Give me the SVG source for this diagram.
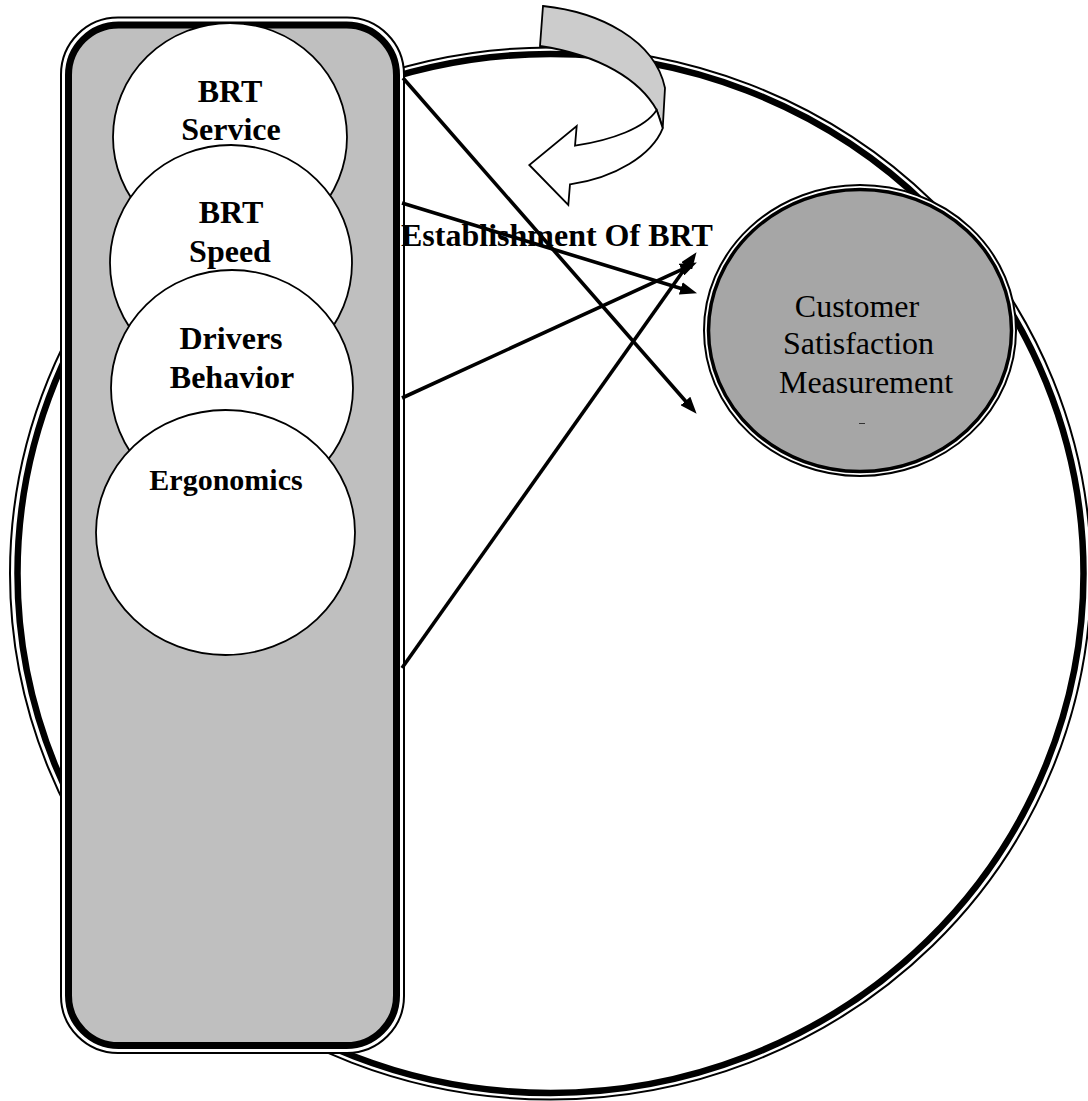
<svg xmlns="http://www.w3.org/2000/svg" width="1088" height="1101" viewBox="0 0 1088 1101">
  <style>
    .lbl { font-family: "Liberation Serif", "Times New Roman", serif; font-weight: bold; font-size: 32px; fill: #000; text-anchor: middle; }
    .cs { font-family: "Liberation Serif", "Times New Roman", serif; font-size: 32px; fill: #000; text-anchor: middle; }
    .small { fill: #fff; stroke: #000; stroke-width: 1.8; }
    .conn { stroke: #000; stroke-width: 3.6; fill: none; marker-end: url(#ah); }
  </style>
  <defs>
    <marker id="ah" markerUnits="userSpaceOnUse" markerWidth="17" markerHeight="13" refX="8" refY="6.5" orient="auto">
      <path d="M0,0 L17,6.5 L0,13 Z" fill="#000"/>
    </marker>
  </defs>
  <rect width="1088" height="1101" fill="#fff"/>

  <g id="outer-circle">
    <ellipse cx="550.5" cy="573.5" rx="540.5" ry="526" fill="none" stroke="#000" stroke-width="2"/>
    <ellipse cx="550.5" cy="573.5" rx="533" ry="519.5" fill="none" stroke="#000" stroke-width="6.5"/>
  </g>

  <g id="factors-panel">
    <rect x="61" y="17.5" width="343" height="1035.5" rx="57" ry="57" fill="#fff" stroke="#000" stroke-width="2"/>
    <rect x="68.5" y="25" width="328" height="1020.5" rx="50" ry="50" fill="#bfbfbf" stroke="#000" stroke-width="7"/>
  </g>

  <g id="brt-service">
    <ellipse class="small" cx="230" cy="137" rx="117" ry="114"/>
    <text class="lbl" x="230" y="102">BRT</text>
    <text class="lbl" x="231" y="140">Service</text>
  </g>
  <g id="brt-speed">
    <ellipse class="small" cx="231" cy="263" rx="121" ry="118"/>
    <text class="lbl" x="231" y="223">BRT</text>
    <text class="lbl" x="230" y="262">Speed</text>
  </g>
  <g id="drivers-behavior">
    <ellipse class="small" cx="232" cy="388" rx="121" ry="118"/>
    <text class="lbl" x="231" y="349">Drivers</text>
    <text class="lbl" x="232" y="388">Behavior</text>
  </g>
  <g id="ergonomics">
    <ellipse class="small" cx="225.5" cy="532.5" rx="129.5" ry="122.5"/>
    <text class="lbl" x="226" y="490" style="font-size:30px">Ergonomics</text>
  </g>

  <g id="customer-satisfaction">
    <ellipse cx="860" cy="330.5" rx="156" ry="145.5" fill="#fff" stroke="#000" stroke-width="2"/>
    <ellipse cx="860" cy="330.5" rx="151.5" ry="141" fill="#a6a6a6" stroke="#000" stroke-width="3.5"/>
    <text class="cs" x="857" y="317">Customer</text>
    <text class="cs" x="858.5" y="354">Satisfaction</text>
    <text class="cs" x="866" y="393">Measurement</text>
    <line x1="859" y1="423.5" x2="865" y2="423.5" stroke="#333" stroke-width="1"/>
  </g>

  <g id="cycle-arrow" stroke="#000" stroke-width="1.8" stroke-linejoin="miter">
    <path d="M543,6 C600,12 655,40 665,88 L662.7,128.3 C661,122 659,116 656.7,110 C640,80 600,55 540,46 Z" fill="#cccccc"/>
    <path d="M662.7,128.3 C652,155 615,178 570,184.3 L568.3,205 L529.3,165 L576.7,126 L575,145.7 C612,140 645,128 656.7,110 Z" fill="#fff"/>
  </g>

  <g id="connectors">
    <line class="conn" x1="403" y1="78" x2="690.7" y2="407"/>
    <line class="conn" x1="402" y1="203" x2="688.4" y2="290.7"/>
    <line class="conn" x1="402" y1="398" x2="688.7" y2="266.3"/>
    <line class="conn" x1="402" y1="668" x2="691.3" y2="259.5"/>
  </g>

  <g id="establishment-label">
    <text x="401" y="246" style="font-family:'Liberation Serif','Times New Roman',serif;font-weight:bold;font-size:32px">Establishment Of BRT</text>
  </g>
</svg>
